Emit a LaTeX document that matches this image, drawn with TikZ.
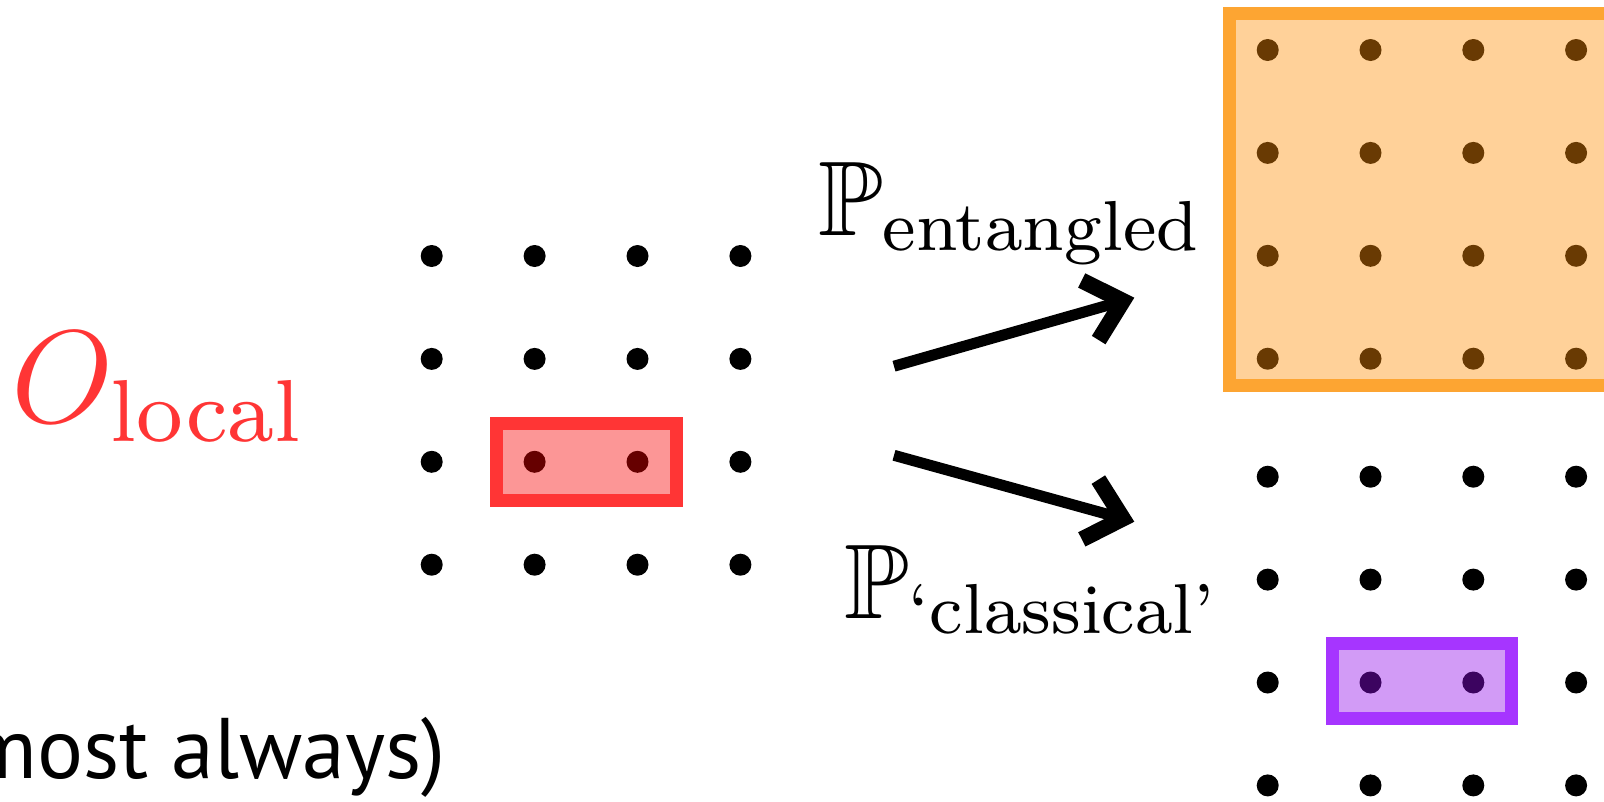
\documentclass[tikz,border=0pt]{standalone}
\usepackage{amsmath}
\usepackage{amssymb}
\usepackage{fontspec}
\newfontfamily\slidefont{PT Sans}
\usetikzlibrary{arrows.meta}
\definecolor{olocal}{HTML}{FF3535}
\definecolor{redborder}{HTML}{FF3535}
\definecolor{redfill}{HTML}{F80000}
\definecolor{orangeborder}{HTML}{FDA532}
\definecolor{orangefill}{HTML}{FF8F08}
\definecolor{purpleborder}{HTML}{A635FF}
\definecolor{purplefill}{HTML}{920CEA}
\tikzset{
  lbl/.style={inner sep=0pt, outer sep=0pt, font=\fontsize{12}{14}\selectfont},
  dot/.style={fill=black},
  region/.style={line width=13pt, fill opacity=0.41},
  bigarrow/.style={line width=11pt, -{Straight Barb[length=34pt,width=62pt,line width=16pt]}},
}
\begin{document}
\begin{tikzpicture}[x=1pt,y=-1pt]
\useasboundingbox (0,0) rectangle (1604,801);
% left lattice
\foreach \i in {0,...,3}{\foreach \j in {0,...,3}{
  \fill[dot] (431.7+102.9*\i, 256+102.9*\j) circle (11);}}
\draw[region, draw=redborder, fill=redfill] (496.3,423.6) rectangle (676.4,500.4);
% top right lattice
\foreach \i in {0,...,3}{\foreach \j in {0,...,3}{
  \fill[dot] (1267.7+102.8*\i, 50+102.9*\j) circle (11);}}
\draw[region, draw=orangeborder, fill=orangefill] (1229.2,13.2) rectangle (1640,385.8);
% bottom right lattice
\foreach \i in {0,...,3}{\foreach \j in {0,...,3}{
  \fill[dot] (1267.7+102.8*\i, 476.7+102.9*\j) circle (11);}}
\draw[region, draw=purpleborder, fill=purplefill] (1332.2,643.8) rectangle (1511.8,718.8);
% labels
\node[lbl, text=olocal, scale=11, anchor=base west] (ol) at (12,422) {$O_{\text{local}}$};
\node[lbl, scale=8.85, anchor=base west] (pe) at (818,235) {$\mathbb{P}_{\text{entangled}}$};
\node[lbl, scale=8.85, anchor=base west] (pc) at (844,618) {$\mathbb{P}_{\text{`classical'}}$};
\node[inner sep=0pt, anchor=base east, font=\slidefont\fontsize{86}{100}\selectfont] (note) at (446,778) {most always)};
% arrows
\coordinate (a1s) at (894,366.2);
\coordinate (a1e) at (1134.3,297.7);
\coordinate (a2s) at (894,455.3);
\coordinate (a2e) at (1134.3,521.7);
\draw[bigarrow] (a1s) -- (a1e);
\draw[bigarrow] (a2s) -- (a2e);
\end{tikzpicture}
\end{document}
